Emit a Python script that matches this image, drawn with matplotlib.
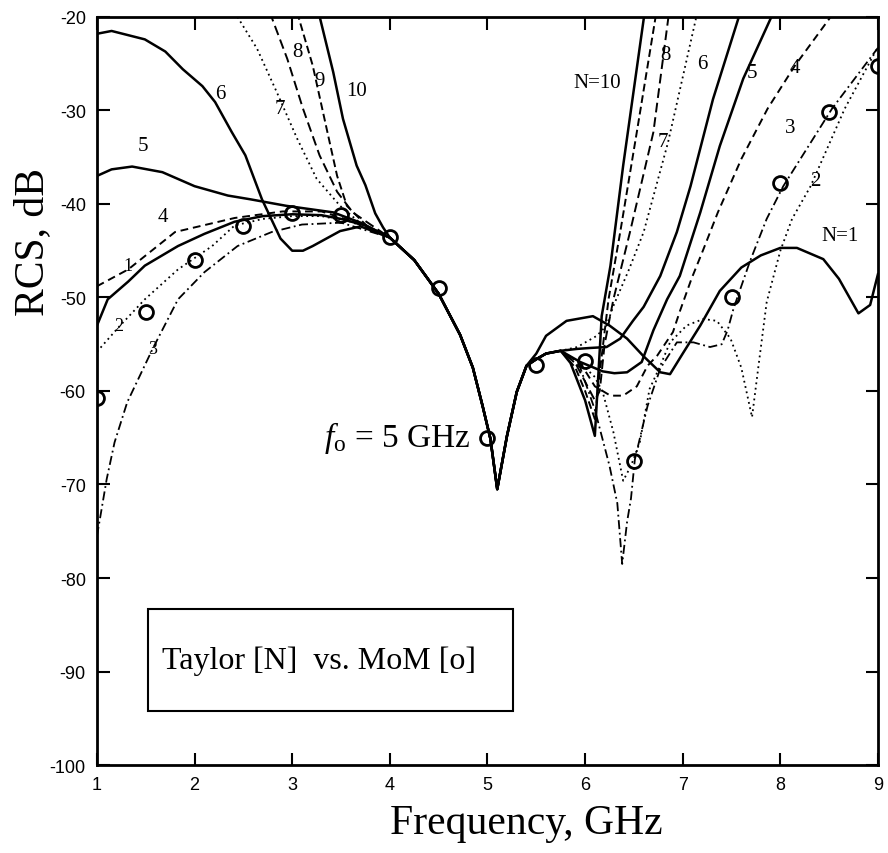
import numpy as np
import matplotlib.pyplot as plt
from matplotlib.patches import Rectangle

plt.rcParams['axes.unicode_minus'] = False
plt.rcParams['mathtext.fontset'] = 'custom'
plt.rcParams['mathtext.rm'] = 'Liberation Serif'
plt.rcParams['mathtext.it'] = 'Liberation Serif:italic'

# common part of every Taylor curve around f0
f_core = [4.0, 4.25, 4.5, 4.72, 4.85, 4.95, 5.03, 5.1, 5.2, 5.3, 5.4]
rcs_core = [-43.6, -46.0, -49.6, -54.0, -57.5, -61.6, -65.1, -70.5, -64.8, -60.1, -57.3]

# N=1
f1_lo = [1.0, 1.11, 1.32, 1.49, 1.83, 2.1, 2.41, 2.7, 3.0, 3.3, 3.5, 3.75]
r1_lo = [-53, -50.2, -48.3, -46.6, -44.5, -43.2, -41.9, -41.3, -41.1, -41.2, -41.6, -42.3]
f1_hi = [5.5, 5.6, 5.81, 6.08, 6.25, 6.43, 6.6, 6.77, 6.87, 7.0, 7.18, 7.38, 7.6, 7.8,
         8.0, 8.17, 8.44, 8.6, 8.8, 8.92, 9.0]
r1_hi = [-56, -54.1, -52.5, -52, -53, -54.4, -56.3, -58, -58.2, -56, -53, -49.3, -46.8, -45.5,
         -44.7, -44.7, -45.9, -48, -51.7, -50.8, -47.5]
# N=2
f2_lo = [1.0, 1.22, 1.49, 1.83, 2.18, 2.41, 2.7, 3.0, 3.3, 3.6]
r2_lo = [-55.8, -53.2, -50.2, -47, -44.5, -42.3, -41.6, -41.3, -41.3, -41.9]
f2_hi = [5.5, 5.6, 5.75, 5.95, 6.1, 6.18, 6.29, 6.39, 6.47, 6.56, 6.66, 6.77, 6.87, 7.04, 7.21,
         7.35, 7.49, 7.6, 7.71, 7.78, 7.86, 8.0, 8.12, 8.31, 8.66, 9.0]
r2_hi = [-56.6, -56, -55.7, -57, -58.5, -60.1, -64.4, -69.6, -68, -65.5, -59.8, -57.3, -54.8, -53, -52.3,
         -52.5, -54.4, -57.5, -62.8, -57, -50.5, -45, -41.6, -38.1, -29.8, -23.2]
# N=3
f3_lo = [1.0, 1.03, 1.1, 1.18, 1.31, 1.57, 1.83, 2.1, 2.44, 2.79, 3.1, 3.5]
r3_lo = [-75.5, -73.7, -69.4, -65.5, -61.2, -55.5, -50.2, -47.3, -44.5, -43, -42.2, -42]
f3_hi = [5.5, 5.6, 5.75, 5.95, 6.1, 6.25, 6.33, 6.38, 6.43, 6.47, 6.51, 6.64, 6.77, 6.94, 7.11,
         7.28, 7.4, 7.46, 7.52, 7.69, 7.86, 8.03, 8.53, 9.0]
r3_hi = [-56.6, -56, -55.7, -57.5, -62, -68, -72, -78.5, -74, -71.5, -67.3, -61.6, -57.6, -54.8, -54.8,
         -55.3, -55, -53.5, -51.2, -46.1, -41.6, -38.1, -29.8, -23.3]
# N=4
f4_lo = [1.0, 1.32, 1.8, 2.41, 2.9, 3.3, 3.6]
r4_lo = [-48.8, -47, -43, -41.5, -40.8, -40.8, -41.8]
f4_hi = [5.5, 5.6, 5.75, 5.95, 6.1, 6.26, 6.39, 6.53, 6.64, 6.74, 6.9, 6.97, 7.09, 7.21, 7.36,
         7.6, 7.87, 8.15, 8.55]
r4_hi = [-56.6, -56, -55.7, -57, -59.5, -60.5, -60.5, -59.5, -57.3, -56.2, -53.7, -51.5, -48, -44.9, -40.9,
         -35.2, -29.8, -25.2, -19.5]
# N=5
f5_lo = [1.0, 1.15, 1.36, 1.67, 2.0, 2.34, 2.57, 2.94, 3.42, 3.7]
r5_lo = [-37, -36.3, -36, -36.6, -38.1, -39.1, -39.5, -40.2, -40.9, -42]
f5_hi = [5.5, 5.6, 5.75, 5.95, 6.18, 6.3, 6.43, 6.58, 6.7, 6.84, 6.97, 7.18, 7.38, 7.62, 7.93]
r5_hi = [-56.6, -56, -55.7, -56.9, -57.9, -58.1, -58, -56.9, -53.5, -50.2, -47.7, -40.9, -33.8, -26.6, -19.5]
# N=6
f6_lo = [1.0, 1.15, 1.49, 1.7, 1.88, 2.08, 2.21, 2.38, 2.52, 2.69, 2.88, 3.0, 3.11, 3.21, 3.49, 3.7]
r6_lo = [-21.8, -21.5, -22.4, -23.7, -25.6, -27.4, -29.1, -32.3, -34.8, -39.5, -43.7, -45, -45, -44.5, -42.9, -42.4]
f6_hi = [5.5, 5.6, 5.75, 5.92, 6.05, 6.22, 6.36, 6.49, 6.6, 6.77, 6.94, 7.08, 7.31, 7.59]
r6_hi = [-56.6, -56, -55.7, -55.5, -55.4, -55.3, -54.4, -52.5, -51, -47.7, -43, -38.1, -28.8, -19.5]
# N=7
f7_lo = [2.41, 2.64, 2.84, 3.05, 3.25, 3.49, 3.77]
r7_lo = [-19.5, -23.4, -28, -33, -37.3, -40.2, -42.7]
f7_hi = [5.5, 5.6, 5.75, 5.92, 6.12, 6.22, 6.29, 6.45, 6.6, 6.85, 7.15]
r7_hi = [-56.6, -56, -55.7, -55.3, -54.1, -53, -50.9, -47, -43, -33.4, -19.5]
# N=8
f8_lo = [2.77, 2.95, 3.11, 3.28, 3.46, 3.62, 3.83]
r8_lo = [-19.5, -24.5, -29.8, -34.8, -38.7, -40.9, -42.4]
f8_hi = [5.5, 5.6, 5.75, 5.9, 6.0, 6.1, 6.15, 6.2, 6.29, 6.46, 6.7, 6.86]
r8_hi = [-56.6, -56, -55.7, -57, -59, -61, -60, -55, -50.2, -43, -32.3, -19.5]
# N=9
f9_lo = [3.05, 3.21, 3.36, 3.46, 3.56, 3.77]
r9_lo = [-19.5, -25.2, -32.3, -37, -40.2, -42.4]
f9_hi = [5.5, 5.6, 5.75, 5.9, 6.0, 6.1, 6.15, 6.24, 6.36, 6.53, 6.73]
r9_hi = [-56.6, -56, -55.7, -57.5, -60, -63, -58, -50.2, -43, -32.3, -19.5]
# N=10
f10_lo = [3.27, 3.42, 3.52, 3.66, 3.75, 3.85, 3.93]
r10_lo = [-19.5, -25.9, -30.9, -35.9, -38, -41, -42.5]
f10_hi = [5.5, 5.6, 5.75, 5.85, 6.0, 6.1, 6.17, 6.26, 6.39, 6.61]
r10_hi = [-56.6, -56, -55.7, -57, -61, -64.8, -52, -46.6, -35.9, -19.5]

# MoM reference points
f_mom = [1, 1.5, 2, 2.5, 3, 3.5, 4, 4.5, 5, 5.5, 6, 6.5, 7.5, 8, 8.5, 9]
rcs_mom = [-60.8, -51.6, -46, -42.4, -41, -41.2, -43.5, -49, -65, -57.2, -56.8, -67.5, -50, -37.8, -30.2, -25.2]

curves = [
    (f1_lo, r1_lo, f1_hi, r1_hi, '-', 1.8),
    (f2_lo, r2_lo, f2_hi, r2_hi, (0, (1, 2)), 1.3),
    (f3_lo, r3_lo, f3_hi, r3_hi, (0, (5, 2, 1, 2)), 1.3),
    (f4_lo, r4_lo, f4_hi, r4_hi, (0, (4, 2.5)), 1.4),
    (f5_lo, r5_lo, f5_hi, r5_hi, '-', 1.8),
    (f6_lo, r6_lo, f6_hi, r6_hi, '-', 1.8),
    (f7_lo, r7_lo, f7_hi, r7_hi, (0, (1, 2)), 1.3),
    (f8_lo, r8_lo, f8_hi, r8_hi, (0, (5, 2.5)), 1.4),
    (f9_lo, r9_lo, f9_hi, r9_hi, (0, (4, 2)), 1.4),
    (f10_lo, r10_lo, f10_hi, r10_hi, '-', 1.8),
]

fig = plt.figure(figsize=(8.88, 8.54), dpi=100)
ax = fig.add_axes([0.1092, 0.103, 0.8795, 0.876])

for flo, rlo, fhi, rhi, ls, lw in curves:
    f = flo + f_core + fhi
    r = rlo + rcs_core + rhi
    ax.plot(f, r, color='black', linestyle=ls, linewidth=lw)

ax.plot(f_mom, rcs_mom, linestyle='none', marker='o', markersize=10,
        markerfacecolor='none', markeredgecolor='black', markeredgewidth=2)

ax.set_xlim(1, 9)
ax.set_ylim(-100, -20)
ax.set_xticks(np.arange(1, 10, 1))
ax.set_yticks(np.arange(-100, -10, 10))
ax.tick_params(direction='in', length=9, width=1.5, top=True, right=True,
               labelsize=13, pad=8)
for lab in ax.get_xticklabels() + ax.get_yticklabels():
    lab.set_family('Liberation Sans')
for s in ax.spines.values():
    s.set_linewidth(2)

serif = 'Liberation Serif'
ax.set_xlabel('Frequency, GHz', fontsize=30, family=serif)
ax.xaxis.set_label_coords(0.55, -0.052, transform=ax.transAxes)
ax.xaxis.label.set_va('top')
ax.set_ylabel('RCS, dB', fontsize=30, family=serif)
ax.yaxis.set_label_coords(-0.058, 0.70)

# curve labels
lab_small = [('1', 1.32, -46.6), ('2', 1.22, -53.0), ('3', 1.57, -55.5)]
lab_big = [('4', 1.67, -41.3), ('5', 1.47, -33.8), ('6', 2.26, -28.2), ('7', 2.87, -29.8),
           ('8', 3.05, -23.7), ('9', 3.28, -26.8), ('10', 3.66, -27.9),
           ('N=10', 6.12, -27.0), ('8', 6.82, -24.0), ('6', 7.2, -25.0), ('5', 7.71, -25.9),
           ('4', 8.15, -25.4), ('7', 6.8, -33.3), ('3', 8.1, -31.8), ('2', 8.36, -37.5),
           ('N=1', 8.61, -43.4)]
for t, x, y in lab_small:
    ax.text(x, y, t, fontsize=13, family=serif, ha='center', va='center')
for t, x, y in lab_big:
    ax.text(x, y, t, fontsize=15, family=serif, ha='center', va='center')

ax.text(4.82, -64.9, r'$f_\mathrm{o}$ = 5 GHz', fontsize=24, family=serif, ha='right', va='center')

ax.add_patch(Rectangle((0.065, 0.072), 0.468, 0.137, transform=ax.transAxes,
                       fill=False, edgecolor='black', linewidth=1.5))
ax.text(0.284, 0.14, 'Taylor [N]  vs. MoM [o]', transform=ax.transAxes,
        fontsize=23, family=serif, ha='center', va='center')

fig.savefig('out.png', dpi=100)
